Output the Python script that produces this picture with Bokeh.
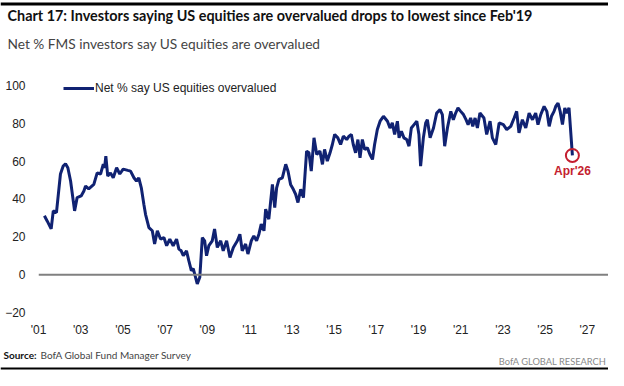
from bokeh.plotting import figure
from bokeh.layouts import column
from bokeh.models import Range1d, FixedTicker, Label, Span
from bokeh.core.properties import value
from bokeh.embed import file_html
from bokeh.resources import INLINE

# ---- data ----
years = [
    2001.28, 2001.41, 2001.60, 2001.70, 2001.85, 2002.04, 2002.17, 2002.28, 2002.39, 2002.52,
    2002.71, 2002.83, 2003.02, 2003.15, 2003.23, 2003.38, 2003.62, 2003.78, 2003.94, 2004.07,
    2004.13, 2004.19, 2004.28, 2004.41, 2004.54, 2004.70, 2004.85, 2005.01, 2005.23, 2005.36,
    2005.52, 2005.64, 2005.75, 2005.87, 2005.99, 2006.07, 2006.23, 2006.39, 2006.50, 2006.63,
    2006.78, 2006.94, 2007.07, 2007.22, 2007.38, 2007.54, 2007.65, 2007.76, 2007.86, 2008.01,
    2008.12, 2008.24, 2008.33, 2008.44, 2008.52, 2008.64, 2008.76, 2008.87, 2008.96, 2009.07,
    2009.23, 2009.34, 2009.47, 2009.63, 2009.75, 2009.91, 2010.07, 2010.23, 2010.42, 2010.54,
    2010.65, 2010.81, 2010.92, 2011.08, 2011.20, 2011.33, 2011.44, 2011.55, 2011.68, 2011.76,
    2011.91, 2012.08, 2012.19, 2012.28, 2012.39, 2012.55, 2012.71, 2012.82, 2012.94, 2013.07,
    2013.18, 2013.29, 2013.42, 2013.55, 2013.70, 2013.81, 2013.92, 2014.05, 2014.18, 2014.33,
    2014.45, 2014.55, 2014.68, 2014.81, 2014.92, 2015.03, 2015.18, 2015.31, 2015.44, 2015.60,
    2015.71, 2015.82, 2015.91, 2016.02, 2016.13, 2016.23, 2016.34, 2016.45, 2016.58, 2016.70,
    2016.82, 2016.92, 2017.05, 2017.18, 2017.34, 2017.53, 2017.65, 2017.76, 2017.87, 2018.00,
    2018.08, 2018.19, 2018.31, 2018.44, 2018.55, 2018.66, 2018.79, 2018.92, 2019.02, 2019.10,
    2019.23, 2019.34, 2019.42, 2019.55, 2019.71, 2019.86, 2020.02, 2020.13, 2020.24, 2020.37,
    2020.53, 2020.65, 2020.76, 2020.87, 2021.00, 2021.13, 2021.25, 2021.35, 2021.47, 2021.57,
    2021.68, 2021.79, 2021.91, 2022.10, 2022.23, 2022.39, 2022.50, 2022.66, 2022.82, 2023.02,
    2023.18, 2023.37, 2023.53, 2023.65, 2023.76, 2023.92, 2024.08, 2024.24, 2024.40, 2024.55,
    2024.66, 2024.79, 2024.95, 2025.08, 2025.19, 2025.30, 2025.42, 2025.50, 2025.61, 2025.71,
    2025.82, 2025.93, 2026.02, 2026.13, 2026.29,
]
net_overvalued = [
    31.1, 28.4, 24.2, 33.7, 32.8, 53.2, 57.4, 58.6, 56.5, 49.5,
    33.7, 40.7, 41.6, 44.2, 46.8, 45.3, 47.7, 53.8, 53.2, 58.4,
    56.5, 62.6, 52.1, 53.8, 51.2, 56.5, 53.2, 55.8, 55.1, 54.7,
    51.2, 49.5, 51.2, 45.9, 37.2, 31.9, 24.9, 23.2, 16.2, 23.2,
    18.8, 19.6, 15.3, 18.8, 15.3, 18.8, 13.5, 12.6, 10.0, 12.6,
    7.4, 2.1, 3.2, -1.4, -4.9, -1.4, 19.6, 17.9, 10.0, 15.3,
    17.9, 24.1, 14.4, 17.9, 12.6, 17.9, 9.1, 14.4, 17.9, 21.4,
    12.6, 16.2, 10.9, 17.9, 20.5, 17.9, 21.4, 26.7, 23.2, 34.6,
    29.3, 47.7, 35.4, 45.9, 50.4, 51.2, 58.3, 54.7, 47.7, 45.1,
    42.5, 38.1, 45.1, 40.7, 65.3, 64.4, 54.7, 72.3, 63.5, 65.3,
    58.3, 66.2, 60.0, 64.4, 68.8, 74.1, 72.3, 68.8, 73.2, 71.4,
    73.2, 74.1, 68.8, 64.4, 71.4, 61.7, 71.4, 66.2, 67.0, 63.5,
    60.9, 68.8, 76.7, 81.1, 83.7, 81.1, 77.5, 80.2, 74.1, 81.1,
    72.3, 75.8, 72.3, 71.4, 67.9, 77.5, 79.3, 81.1, 74.1, 57.4,
    72.3, 80.2, 81.9, 72.3, 77.5, 85.4, 87.2, 84.6, 67.9, 77.5,
    86.3, 81.9, 85.4, 88.1, 86.3, 84.6, 81.9, 79.3, 82.8, 78.4,
    82.8, 77.5, 85.4, 82.8, 74.1, 81.1, 72.3, 68.8, 80.2, 79.3,
    76.7, 78.4, 82.8, 86.3, 74.9, 81.9, 77.5, 85.4, 81.9, 85.4,
    79.3, 84.6, 88.9, 86.3, 78.4, 83.7, 86.3, 88.9, 90.7, 86.3,
    79.3, 88.1, 85.4, 88.1, 63.0,
]
tick_years = [2001, 2003, 2005, 2007, 2009, 2011, 2013, 2015, 2017, 2019, 2021, 2023, 2025, 2027]
tick_labels = ["'01", "'03", "'05", "'07", "'09", "'11", "'13", "'15", "'17", "'19", "'21", "'23", "'25", "'27"]
y_ticks = [-20, 0, 20, 40, 60, 80, 100]
series_name = "Net % say US equities overvalued"
last_label = "Apr'26"
title_text = "Chart 17: Investors saying US equities are overvalued drops to lowest since Feb'19"
subtitle_text = "Net % FMS investors say US equities are overvalued"
source_bold = "Source:"
source_text = "BofA Global Fund Manager Survey"
brand_text = "BofA GLOBAL RESEARCH"

NAVY = "#102272"
RED = "#c41f30"
W = 608


def blank_fig(h):
    f = figure(width=W, height=h, output_backend="svg", toolbar_location=None,
               x_range=Range1d(0, W), y_range=Range1d(0, h),
               x_axis_type=None, y_axis_type=None, frame_align=False,
               min_border_left=0, min_border_right=0, min_border_top=0, min_border_bottom=0)
    f.outline_line_color = None
    f.xgrid.grid_line_color = None
    f.ygrid.grid_line_color = None
    return f


def rule(f, h, y_top, thick):
    # horizontal black rule across the whole width (y measured from the top)
    f.quad(left=[0], right=[W], top=[h - y_top], bottom=[h - y_top - thick],
           fill_color="black", line_color=None)


# ---- header ----
HEAD_H = 64
head = blank_fig(HEAD_H)
rule(head, HEAD_H, 2, 3)
head.add_layout(Label(x=7, y=HEAD_H - 15, text=title_text, text_font="Lato",
                      text_font_size="14.4px", text_font_style="bold",
                      text_color="#111111", text_baseline="middle"))
head.add_layout(Label(x=7, y=HEAD_H - 43, text=subtitle_text, text_font="Lato",
                      text_font_size="13.7px", text_color="#444444", text_baseline="middle"))

# ---- main chart ----
p = figure(width=W, height=276, output_backend="svg", toolbar_location=None,
           x_range=Range1d(2001, 2028), y_range=Range1d(-20, 107.9), frame_align=False,
           min_border_left=38, min_border_right=0, min_border_top=6, min_border_bottom=28)
p.outline_line_color = None
p.xgrid.grid_line_color = None
p.ygrid.grid_line_color = None

for ax in (p.xaxis[0], p.yaxis[0]):
    ax.axis_line_color = None
    ax.major_tick_line_color = None
    ax.minor_tick_line_color = None
    ax.major_tick_out = 0
    ax.major_tick_in = 0
    ax.minor_tick_out = 0
    ax.major_label_text_font = "Liberation Sans"
    ax.major_label_text_font_size = "12px"
    ax.major_label_text_color = "#222222"

p.xaxis.ticker = FixedTicker(ticks=tick_years)
p.xaxis.major_label_overrides = {t: l for t, l in zip(tick_years, tick_labels)}
p.xaxis.major_label_standoff = 10
p.yaxis.ticker = FixedTicker(ticks=y_ticks)
p.yaxis.major_label_standoff = 13

p.add_layout(Span(location=0, dimension="width", line_color="#808080", line_width=2))

p.line(years, net_overvalued, line_color=NAVY, line_width=3, legend_label=series_name)

# highlight of the latest reading
p.scatter([years[-1]], [net_overvalued[-1]], marker="circle", size=13,
          fill_color=None, line_color=RED, line_width=2)
p.text([years[-1]], [net_overvalued[-1]], text=[last_label], text_color=RED,
       text_font=value("Liberation Sans"), text_font_size="12px", text_font_style="bold",
       text_align="center", text_baseline="middle", y_offset=16)

lg = p.legend[0]
lg.location = (25, 214)
lg.padding = 0
lg.margin = 0
lg.border_line_color = None
lg.background_fill_alpha = 0
lg.glyph_width = 31
lg.label_standoff = 1
lg.label_text_font = "Liberation Sans"
lg.label_text_font_size = "12px"
lg.label_text_color = "#222222"

# ---- footer ----
FOOT_H = 30
foot = blank_fig(FOOT_H)
foot.add_layout(Label(x=3, y=FOOT_H - 14, text=source_bold, text_font="Lato",
                      text_font_size="10px", text_font_style="bold",
                      text_color="#111111", text_baseline="middle"))
foot.add_layout(Label(x=40, y=FOOT_H - 14, text=source_text, text_font="Lato",
                      text_font_size="10px", text_color="#444444", text_baseline="middle"))
foot.add_layout(Label(x=606, y=FOOT_H - 21, text=brand_text, text_font="Lato",
                      text_font_size="9.3px", text_align="right",
                      text_color="#8a8a8a", text_baseline="middle"))
rule(foot, FOOT_H, 27, 2)

layout = column(head, p, foot, spacing=0)
open("out.html", "w").write(file_html(layout, INLINE))
